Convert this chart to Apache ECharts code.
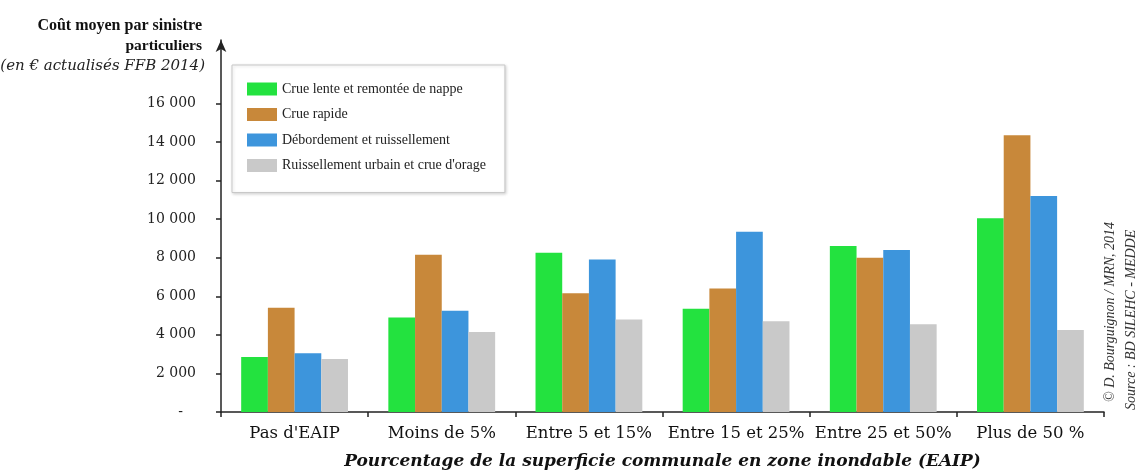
<!DOCTYPE html>
<html>
<head>
<meta charset="utf-8">
<script src="https://cdn.jsdelivr.net/npm/echarts@6/dist/echarts.min.js"></script>
<style>
html,body{margin:0;padding:0;background:#fff;}
#chart{width:1137px;height:475px;}
</style>
</head>
<body>
<div id="chart"></div>
<script>
const categories = ["Pas d'EAIP", "Moins de 5%", "Entre 5 et 15%", "Entre 15 et 25%", "Entre 25 et 50%", "Plus de 50 %"];
const seriesNames = ["Crue lente et remontée de nappe", "Crue rapide", "Débordement et ruissellement", "Ruissellement urbain et crue d'orage"];
const crueLente = [2850, 4900, 8250, 5350, 8600, 10050];
const crueRapide = [5400, 8150, 6150, 6400, 8000, 14350];
const debordement = [3050, 5250, 7900, 9350, 8400, 11200];
const ruissellement = [2750, 4150, 4800, 4700, 4550, 4250];
const yTicks = [0, 2000, 4000, 6000, 8000, 10000, 12000, 14000, 16000];
const colors = ['#23e23f', '#c8883a', '#3d95dc', '#c9c9c9'];

const FONT = '"Liberation Serif", "DejaVu Serif", serif';
const WFONT = '"DejaVu Serif", "Liberation Serif", serif';
const values = [crueLente, crueRapide, debordement, ruissellement];

const chart = echarts.init(document.getElementById('chart'), null, {renderer: 'canvas'});
chart.setOption({
  animation: false,
  backgroundColor: '#ffffff',
  textStyle: {fontFamily: FONT},
  grid: {left: 221, right: 33, top: 40, bottom: 63, outerBoundsMode: 'none', containLabel: false},
  legend: {
    orient: 'vertical',
    left: 232, top: 65,
    padding: [17, 19, 20, 15],
    itemWidth: 30, itemHeight: 13, itemGap: 11.5,
    backgroundColor: '#ffffff',
    borderColor: '#c8c8c8', borderWidth: 1,
    shadowColor: 'rgba(0,0,0,0.15)', shadowBlur: 3, shadowOffsetX: 1, shadowOffsetY: 1,
    icon: 'rect',
    textStyle: {fontFamily: FONT, fontSize: 14, color: '#222'},
    data: seriesNames
  },
  xAxis: {
    type: 'category',
    data: categories,
    axisLine: {lineStyle: {color: '#222', width: 1.5}},
    axisTick: {show: true, interval: 0, length: 5, lineStyle: {color: '#222', width: 1.5}},
    axisLabel: {interval: 0, hideOverlap: false, fontFamily: WFONT, fontSize: 16.5, color: '#111', margin: 13},
    name: 'Pourcentage de la superficie communale en zone inondable (EAIP)',
    nameLocation: 'middle', nameGap: 41,
    nameTextStyle: {fontFamily: WFONT, fontSize: 17, fontStyle: 'italic', fontWeight: 'bold', color: '#111'}
  },
  yAxis: {
    type: 'value',
    min: 0, max: 19284,
    splitLine: {show: false},
    axisLine: {show: true, lineStyle: {color: '#222', width: 1.5}, symbol: ['none', 'arrow'], symbolSize: [8, 12]},
    axisTick: {show: true, length: 5, customValues: yTicks, lineStyle: {color: '#222', width: 1.5}},
    axisLabel: {
      customValues: yTicks,
      fontFamily: WFONT, fontSize: 14, color: '#222', margin: 25,
      formatter: function (v) {
        if (v === 0) return '{z|-}';
        return String(v).replace(/\B(?=(\d{3})+(?!\d))/g, ' ');
      },
      rich: {z: {fontFamily: WFONT, fontSize: 14, color: '#222', padding: [0, 13, 0, 0]}}
    }
  },
  graphic: [
    {type: 'text', right: 1137 - 202, top: 18, style: {text: 'Coût moyen par sinistre', font: 'bold 16px ' + FONT, fill: '#111', textAlign: 'right'}},
    {type: 'text', right: 1137 - 202, top: 38, style: {text: 'particuliers', font: 'bold 15.5px ' + FONT, fill: '#111', textAlign: 'right'}},
    {type: 'text', right: 1137 - 205, top: 59, style: {text: '(en € actualisés FFB 2014)', font: 'italic 15px ' + WFONT, fill: '#222', textAlign: 'right'}},
    {type: 'text', x: 1110, y: 402, rotation: Math.PI / 2, style: {text: '© D. Bourguignon / MRN, 2014', font: 'italic 14px ' + FONT, fill: '#333', textAlign: 'left', textVerticalAlign: 'middle'}},
    {type: 'text', x: 1131, y: 410, rotation: Math.PI / 2, style: {text: 'Source : BD SILEHC - MEDDE', font: 'italic 14px ' + FONT, fill: '#333', textAlign: 'left', textVerticalAlign: 'middle'}}
  ],
  series: seriesNames.map(function (n, i) {
    return {
      name: n, type: 'bar', data: values[i],
      barWidth: 26.7, barGap: '0%',
      itemStyle: {color: colors[i]}
    };
  })
});
</script>
</body>
</html>
